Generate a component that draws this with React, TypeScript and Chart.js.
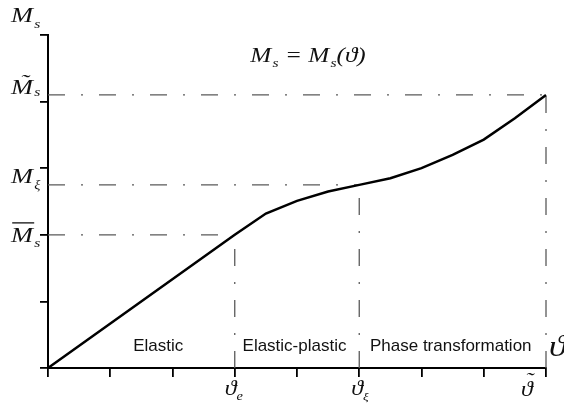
import React, { useEffect, useRef } from 'react';
import { Chart, registerables } from 'chart.js';

Chart.register(...registerables);

// ---- data ----
const thetaTickValues = [0, 1, 2, 3, 4, 5, 6, 7, 8];
const msTickValues = [0, 1, 2, 3, 4, 5];
const curveTheta = [0, 3, 3.5, 4, 4.5, 5, 5.5, 6, 6.5, 7, 7.5, 8];
const curveMs = [0, 2.0, 2.32, 2.51, 2.65, 2.75, 2.85, 3.0, 3.2, 3.43, 3.75, 4.1];
const thetaE = 3;
const thetaXi = 5;
const thetaTilde = 8;
const msBar = 2.0;
const mXi = 2.75;
const msTilde = 4.1;
const regionLabels = ['Elastic', 'Elastic-plastic', 'Phase transformation'];
const regionCenters = [1.77, 3.96, 6.47];

const W = 564;
const H = 407;
const SX = 1.2; // horizontal stretch of the math glyphs

type Part = { t: string; size: number; dx?: number; dy?: number; tilde?: number; bar?: boolean };

const mathFont = (size: number) => `italic ${size}px "Liberation Serif", "DejaVu Serif", serif`;

function drawMath(ctx: CanvasRenderingContext2D, x: number, y: number, parts: Part[], align: 'left' | 'center' = 'left') {
  ctx.save();
  ctx.textAlign = 'left';
  ctx.textBaseline = 'alphabetic';
  let total = 0;
  for (const p of parts) {
    ctx.font = mathFont(p.size);
    total += ctx.measureText(p.t).width + (p.dx || 0);
  }
  ctx.translate(x - (align === 'center' ? (total * SX) / 2 : 0), y);
  ctx.scale(SX, 1);
  let cx = 0;
  for (const p of parts) {
    ctx.font = mathFont(p.size);
    cx += p.dx || 0;
    const w = ctx.measureText(p.t).width;
    ctx.fillText(p.t, cx, p.dy || 0);
    if (p.tilde !== undefined) {
      const tw = ctx.measureText('˜').width;
      ctx.fillText('˜', cx + w / 2 - tw / 2 + 2, (p.dy || 0) - p.tilde);
    }
    if (p.bar) {
      ctx.beginPath();
      ctx.lineWidth = 1.3;
      ctx.strokeStyle = ctx.fillStyle as string;
      const by = (p.dy || 0) - p.size * 0.86;
      ctx.moveTo(cx + 1, by);
      ctx.lineTo(cx + w + 1, by);
      ctx.stroke();
    }
    cx += w;
  }
  ctx.restore();
}

const labelsPlugin = {
  id: 'mathLabels',
  afterDraw(chart: any) {
    const ctx: CanvasRenderingContext2D = chart.ctx;
    const xs = chart.scales.x;
    const ys = chart.scales.y;
    ctx.save();
    ctx.fillStyle = '#111';

    // region labels
    ctx.font = '17px "Liberation Sans", Arial, sans-serif';
    ctx.textAlign = 'center';
    ctx.textBaseline = 'alphabetic';
    const base = ys.getPixelForValue(0) - 17;
    regionLabels.forEach((t, i) => ctx.fillText(t, xs.getPixelForValue(regionCenters[i]), base));

    // y-axis labels
    const left = 11;
    drawMath(ctx, left, 22, [
      { t: 'M', size: 22 },
      { t: 's', size: 13, dx: 1, dy: 6 },
    ]);
    drawMath(ctx, left, ys.getPixelForValue(msTilde) - 1, [
      { t: 'M', size: 22, tilde: 5 },
      { t: 's', size: 13, dx: 1, dy: 2 },
    ]);
    drawMath(ctx, left, ys.getPixelForValue(mXi) - 2, [
      { t: 'M', size: 22 },
      { t: 'ξ', size: 12, dx: 1, dy: 6 },
    ]);
    drawMath(ctx, left, ys.getPixelForValue(msBar) + 7, [
      { t: 'M', size: 22, bar: true },
      { t: 's', size: 13, dx: 1, dy: 5 },
    ]);

    // formula
    drawMath(ctx, 308, 62, [
      { t: 'M', size: 21 },
      { t: 's', size: 13, dx: 1, dy: 5 },
      { t: ' = ', size: 21 },
      { t: 'M', size: 21 },
      { t: 's', size: 13, dx: 1, dy: 5 },
      { t: '(ϑ)', size: 21 },
    ], 'center');

    // x-axis labels
    const xb = ys.getPixelForValue(0) + 27;
    drawMath(ctx, xs.getPixelForValue(thetaE) - 10, xb, [
      { t: 'ϑ', size: 20 },
      { t: 'e', size: 12, dy: 5 },
    ]);
    drawMath(ctx, xs.getPixelForValue(thetaXi) - 8, xb, [
      { t: 'ϑ', size: 20 },
      { t: 'ξ', size: 11, dy: 5 },
    ]);
    drawMath(ctx, xs.getPixelForValue(thetaTilde) - 25, xb + 1, [
      { t: 'ϑ', size: 20, tilde: 9 },
    ]);
    // axis name at the right end
    drawMath(ctx, xs.getPixelForValue(thetaTilde) + 3, ys.getPixelForValue(0) - 12, [
      { t: 'ϑ', size: 29 },
    ]);
    ctx.restore();
  },
};

export default function App() {
  const ref = useRef<HTMLCanvasElement | null>(null);
  useEffect(() => {
    if (!ref.current) return;
    const dash = [17, 16, 2, 16];
    const refStyle = {
      borderColor: '#5a5a5a',
      borderWidth: 1.3,
      borderDash: dash,
      pointRadius: 0,
      fill: false,
      clip: false as any,
    };
    const chart = new Chart(ref.current, {
      type: 'line',
      data: {
        datasets: [
          {
            data: curveTheta.map((t, i) => ({ x: t, y: curveMs[i] })),
            borderColor: '#000',
            borderWidth: 2.5,
            pointRadius: 0,
            tension: 0,
            clip: false as any,
          },
          { ...refStyle, data: [{ x: 0, y: msBar }, { x: thetaE, y: msBar }] },
          { ...refStyle, data: [{ x: 0, y: mXi }, { x: thetaXi, y: mXi }] },
          { ...refStyle, data: [{ x: 0, y: msTilde }, { x: thetaTilde, y: msTilde }] },
          { ...refStyle, data: [{ x: thetaE, y: 0 }, { x: thetaE, y: msBar }] },
          { ...refStyle, data: [{ x: thetaXi, y: 0 }, { x: thetaXi, y: mXi }] },
          { ...refStyle, data: [{ x: thetaTilde, y: 0 }, { x: thetaTilde, y: msTilde }] },
        ],
      },
      options: {
        animation: false,
        responsive: false,
        layout: { padding: { left: 40, right: 18, top: 35, bottom: 30 } },
        plugins: { legend: { display: false }, tooltip: { enabled: false } },
        scales: {
          x: {
            type: 'linear',
            min: thetaTickValues[0],
            max: thetaTickValues[thetaTickValues.length - 1],
            afterBuildTicks: (s: any) => { s.ticks = thetaTickValues.map((v) => ({ value: v })); },
            ticks: { display: false },
            grid: { display: true, drawOnChartArea: false, drawTicks: true, tickLength: 9, color: '#000', lineWidth: 1.8 },
            border: { display: true, color: '#000', width: 2 },
          },
          y: {
            type: 'linear',
            min: msTickValues[0],
            max: msTickValues[msTickValues.length - 1],
            afterBuildTicks: (s: any) => { s.ticks = msTickValues.map((v) => ({ value: v })); },
            ticks: { display: false },
            grid: { display: true, drawOnChartArea: false, drawTicks: true, tickLength: 8, color: '#000', lineWidth: 1.8 },
            border: { display: true, color: '#000', width: 2 },
          },
        },
      },
      plugins: [labelsPlugin],
    });
    return () => chart.destroy();
  }, []);
  return (
    <div style={{ position: 'fixed', left: 0, top: 0, width: W, height: H, background: '#fff' }}>
      <canvas ref={ref} width={W} height={H} style={{ display: 'block', width: W, height: H }} />
    </div>
  );
}
